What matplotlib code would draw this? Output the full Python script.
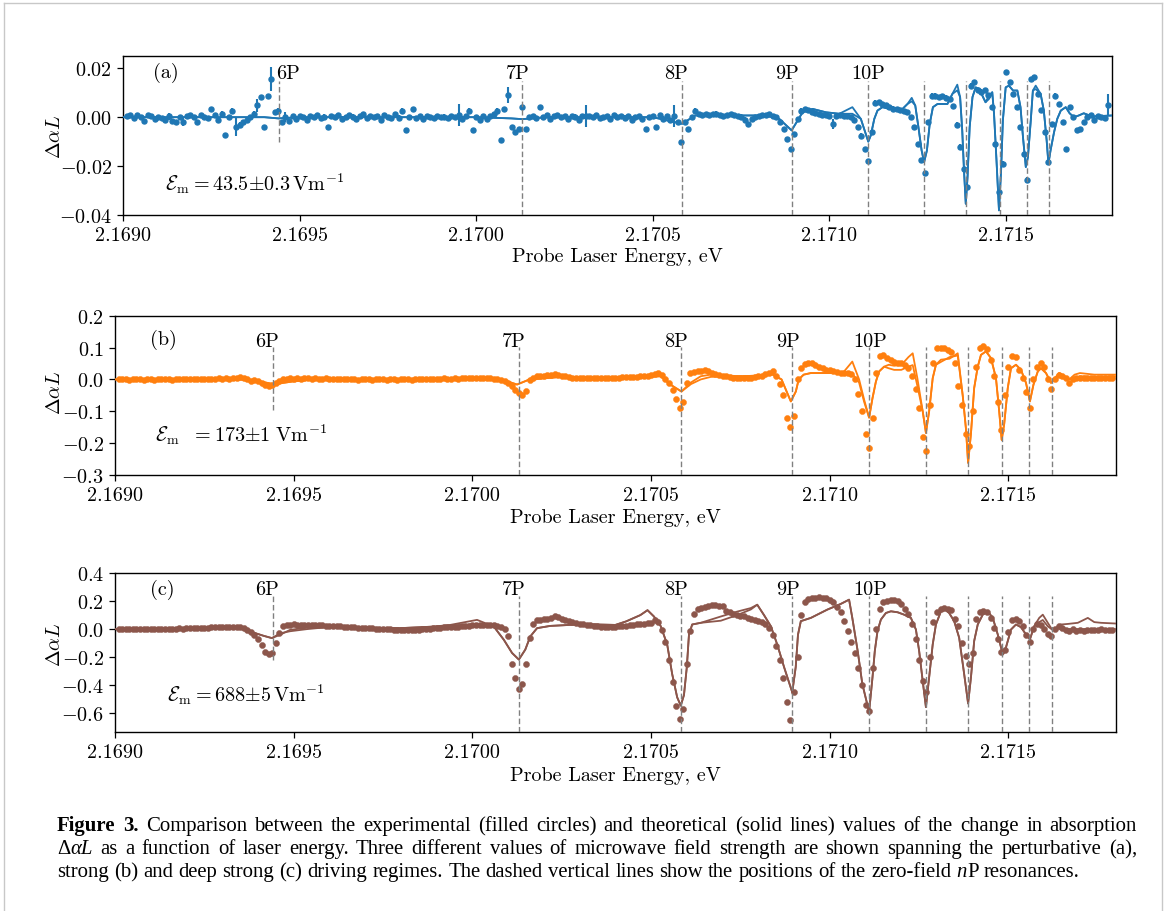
import numpy as np
import matplotlib
matplotlib.use("Agg")
import matplotlib.pyplot as plt
from matplotlib.lines import Line2D

plt.rcParams.update({
    "font.family": "serif",
    "font.serif": ["cmr10"],
    "mathtext.fontset": "cm",
    "axes.unicode_minus": False,
})

# ------------------------------------------------------------------ data
scan_start = 2.16901          # eV, first point of the probe-laser scan
scan_step = 1.0e-5            # eV between measured points

resonance_names = ["6P", "7P", "8P", "9P", "10P"]
resonance_energies = [2.169441, 2.170131, 2.170583, 2.170895, 2.171110,
                      2.171268, 2.171387, 2.171482, 2.171558, 2.171621]

xticks = [2.1690, 2.1695, 2.1700, 2.1705, 2.1710, 2.1715]
xtick_labels = ["2.1690", "2.1695", "2.1700", "2.1705", "2.1710", "2.1715"]
yticks_a = [-0.04, -0.02, 0.00, 0.02]
ytick_labels_a = ["$-0.04$", "$-0.02$", "$0.00$", "$0.02$"]
yticks_b = [-0.3, -0.2, -0.1, 0.0, 0.1, 0.2]
ytick_labels_b = ["$-0.3$", "$-0.2$", "$-0.1$", "$0.0$", "$0.1$", "$0.2$"]
yticks_c = [-0.6, -0.4, -0.2, 0.0, 0.2, 0.4]
ytick_labels_c = ["$-0.6$", "$-0.4$", "$-0.2$", "$0.0$", "$0.2$", "$0.4$"]

field_a = r"$\mathcal{E}_{\rm m} = 43.5{\pm}0.3\,{\rm Vm}^{-1}$"
field_b = r"$\mathcal{E}_{\rm m}\ \ = 173{\pm}1\ {\rm Vm}^{-1}$"
field_c = r"$\mathcal{E}_{\rm m} = 688{\pm}5\,{\rm Vm}^{-1}$"

# panel (a): measured change in absorption (one value per scan step)
meas_a = [
    0.0005, 0.001, -0.0005, 0.0008, 0.0, -0.0015, 0.0007, 0.0005, -0.0008, 0.0,
    -0.0003, -0.0012, 0.0004, -0.0015, -0.002, 0.0, -0.002, 0.0006, 0.001, 0.0,
    -0.002, 0.0008, 0.0, -0.0005, 0.0034, 0.0008, -0.001, 0.0015, -0.0072, 0.0,
    0.0027, -0.004, -0.003, -0.002, -0.001, 0.0, 0.0015, 0.0048, 0.0082, -0.004,
    0.0086, 0.0156, 0.002, 0.0027, -0.002, 0.0002, -0.0015, 0.0003, -0.0006, 0.0005,
    0.0, -0.0012, 0.0006, 0.0, 0.0008, -0.0004, 0.0002, -0.004, 0.0004, 0.0,
    0.0008, -0.0006, 0.0, 0.001, 0.0002, -0.0008, 0.0005, 0.0012, -0.0003, 0.0004,
    0.0, 0.0006, -0.001, 0.0008, 0.0, -0.0005, 0.0012, -0.0002, 0.0027, -0.0054,
    0.0, 0.0034, -0.0005, 0.0005, -0.0008, 0.0003, 0.0, -0.0004, 0.0006, 0.0,
    0.0002, -0.0003, 0.0004, 0.0, 0.001, -0.0006, 0.0003, 0.0027, -0.0054, 0.0,
    -0.0012, 0.0005, -0.0008, 0.0003, 0.0012, 0.0027, -0.0095, 0.0034, 0.0092, -0.004,
    -0.006, -0.0048, 0.004, -0.0048, 0.0, 0.0005, -0.0005, 0.004, 0.0, 0.0008,
    -0.0006, 0.0004, 0.001, 0.0, 0.0006, -0.0008, 0.0005, 0.0002, -0.0012, 0.0003,
    0.0004, 0.0006, 0.0, 0.0008, -0.0004, 0.0, 0.0005, -0.0006, 0.0009, 0.0,
    0.0006, -0.0002, 0.0004, -0.001, 0.0, 0.0003, -0.0008, -0.0048, 0.0, 0.0006,
    -0.004, 0.0008, -0.0006, 0.0004, -0.0012, 0.0004, -0.002, -0.0102, -0.002, -0.0048,
    0.0, 0.0027, 0.0012, 0.001, 0.0014, 0.0008, 0.0012, 0.0015, 0.001, 0.0006,
    0.001, 0.0012, 0.0008, 0.0004, 0.0002, -0.001, -0.0027, -0.0008, 0.0, 0.0006,
    0.001, 0.0008, 0.0012, 0.0006, 0.0, -0.002, -0.0048, -0.0088, -0.013, -0.0068,
    -0.0007, 0.0027, 0.0034, 0.003, 0.002, 0.0016, 0.0012, 0.0008, 0.001, 0.0006,
    -0.0027, 0.0004, 0.001, 0.0006, 0.0004, 0.0, -0.001, -0.004, -0.0075, -0.013,
    -0.018, -0.006, 0.006, 0.0061, 0.0055, 0.005, 0.0041, 0.0035, 0.0034, 0.003,
    0.0025, 0.002, 0.0, -0.004, -0.011, -0.0177, -0.023, -0.002, 0.0088, 0.0088,
    0.0082, 0.0085, 0.008, 0.0075, 0.0045, -0.003, -0.012, -0.021, -0.0286, 0.0129,
    0.0143, 0.011, 0.0105, 0.011, 0.009, 0.004, -0.011, -0.0306, -0.019, 0.0184,
    0.0143, 0.0095, 0.004, -0.004, -0.015, -0.0255, 0.0155, 0.0163, 0.0095, 0.003,
    -0.006, -0.0184, -0.0027, 0.0088, 0.0054, -0.002, -0.0129, 0.0041, 0.0, -0.0054,
    -0.0048, -0.002, 0.0, 0.0007, -0.001, 0.0003, 0.0, -0.0005, 0.0048,
]
err_a_typical = 0.0009
err_a_large = [(12, 0.0015), (16, 0.0015), (31, 0.0035), (37, 0.0025), (41, 0.0048),
               (45, 0.002), (94, 0.0045), (108, 0.0033), (130, 0.0045), (155, 0.0045),
               (200, 0.002), (278, 0.0045)]

# panel (b)
meas_b = [
    0.002, 0.0, 0.001, -0.001, 0.0, 0.002, 0.0, -0.002, 0.001, 0.0,
    -0.001, 0.001, 0.0, 0.002, 0.0, -0.001, 0.001, 0.0, 0.002, 0.001,
    0.0, 0.002, 0.001, 0.0, 0.001, 0.002, 0.0, 0.001, 0.003, 0.002,
    0.003, 0.002, 0.004, 0.006, 0.008, 0.004, 0.0, -0.004, -0.002, -0.006,
    -0.012, -0.018, -0.02, -0.018, -0.01, -0.004, 0.0, 0.002, 0.003, 0.002,
    0.003, 0.002, 0.004, 0.003, 0.002, 0.003, 0.001, 0.002, 0.003, 0.002,
    0.001, 0.002, 0.0, 0.001, 0.002, 0.0, 0.001, -0.001, 0.0, 0.001,
    0.0, -0.001, 0.0, 0.001, 0.0, -0.001, 0.0, 0.001, -0.001, 0.0,
    0.001, 0.0, -0.001, 0.0, 0.001, 0.0, 0.002, 0.001, 0.0, 0.002,
    0.001, 0.003, 0.002, 0.001, 0.003, 0.002, 0.004, 0.003, 0.005, 0.004,
    0.005, 0.006, 0.004, 0.005, 0.003, 0.002, 0.0, -0.003, -0.006, -0.01,
    -0.02, -0.032, -0.042, -0.05, -0.035, -0.002, 0.006, 0.01, 0.012, 0.012,
    0.013, 0.015, 0.016, 0.014, 0.012, 0.01, 0.008, 0.006, 0.005, 0.004,
    0.003, 0.003, 0.004, 0.003, 0.004, 0.005, 0.004, 0.005, 0.006, 0.005,
    0.006, 0.007, 0.008, 0.007, 0.008, 0.009, 0.01, 0.011, 0.012, 0.014,
    0.016, 0.02, 0.015, 0.0, -0.012, -0.032, -0.06, -0.09, -0.07, -0.01,
    0.02, 0.023, 0.025, 0.027, 0.028, 0.025, 0.02, 0.018, 0.015, 0.012,
    0.01, 0.008, 0.006, 0.005, 0.004, 0.004, 0.005, 0.006, 0.008, 0.01,
    0.012, 0.016, 0.02, 0.025, 0.01, -0.015, -0.05, -0.12, -0.15, -0.115,
    0.0, 0.035, 0.047, 0.053, 0.05, 0.045, 0.04, 0.035, 0.03, 0.028,
    0.025, 0.022, 0.02, 0.02, 0.02, 0.018, 0.0, -0.045, -0.10, -0.17,
    -0.215, -0.12, 0.02, 0.072, 0.077, 0.068, 0.06, 0.056, 0.052, 0.05,
    0.046, 0.035, 0.01, -0.03, -0.09, -0.18, -0.225, -0.08, 0.05, 0.098,
    0.10, 0.098, 0.093, 0.085, 0.05, -0.02, -0.08, -0.17, -0.21, -0.10,
    0.04, 0.10, 0.106, 0.095, 0.06, 0.01, -0.07, -0.16, -0.05, 0.04,
    0.075, 0.07, 0.03, 0.004, -0.04, -0.09, 0.0, 0.04, 0.05, 0.04,
    0.0, -0.03, 0.0, 0.015, 0.01, 0.004, -0.01, 0.0, 0.004, 0.004,
    0.005, 0.004, 0.005, 0.006, 0.005, 0.004, 0.005, 0.006, 0.005,
]

# panel (c)
meas_c = [
    0.0, 0.0, 0.0, -0.002, 0.0, 0.002, 0.0, -0.002, 0.0, 0.0,
    0.002, 0.0, 0.0, 0.002, 0.003, 0.002, 0.004, 0.005, 0.004, 0.006,
    0.006, 0.007, 0.008, 0.008, 0.01, 0.011, 0.012, 0.013, 0.014, 0.015,
    0.016, 0.017, 0.018, 0.016, 0.012, 0.005, -0.005, -0.02, -0.04, -0.07,
    -0.11, -0.16, -0.18, -0.17, -0.10, -0.03, 0.02, 0.03, 0.032, 0.033,
    0.032, 0.031, 0.03, 0.03, 0.029, 0.028, 0.027, 0.026, 0.025, 0.024,
    0.023, 0.021, 0.02, 0.018, 0.016, 0.015, 0.013, 0.011, 0.01, 0.008,
    0.007, 0.006, 0.004, 0.003, 0.002, 0.0, -0.002, -0.003, -0.004, -0.005,
    -0.005, -0.005, -0.004, -0.004, -0.003, -0.002, 0.0, 0.003, 0.006, 0.008,
    0.01, 0.012, 0.013, 0.015, 0.016, 0.018, 0.02, 0.022, 0.025, 0.027,
    0.029, 0.03, 0.03, 0.031, 0.03, 0.028, 0.025, 0.018, 0.0, -0.05,
    -0.25, -0.35, -0.43, -0.39, -0.25, -0.06, 0.04, 0.062, 0.068, 0.07,
    0.072, 0.078, 0.09, 0.085, 0.075, 0.068, 0.06, 0.052, 0.046, 0.04,
    0.035, 0.03, 0.026, 0.023, 0.02, 0.018, 0.017, 0.016, 0.016, 0.018,
    0.02, 0.022, 0.025, 0.028, 0.03, 0.033, 0.036, 0.04, 0.043, 0.047,
    0.062, 0.05, -0.005, -0.09, -0.22, -0.38, -0.55, -0.64, -0.57, -0.25,
    -0.01, 0.11, 0.14, 0.15, 0.157, 0.163, 0.17, 0.172, 0.168, 0.162,
    0.13, 0.12, 0.11, 0.10, 0.095, 0.09, 0.08, 0.075, 0.068, 0.06,
    0.05, 0.035, 0.01, -0.04, -0.12, -0.22, -0.35, -0.52, -0.65, -0.45,
    -0.2, 0.10, 0.19, 0.215, 0.222, 0.225, 0.226, 0.224, 0.22, 0.21,
    0.19, 0.16, 0.12, 0.06, -0.01, -0.09, -0.17, -0.28, -0.40, -0.54,
    -0.58, -0.28, 0.0, 0.14, 0.19, 0.20, 0.205, 0.21, 0.20, 0.18,
    0.145, 0.11, 0.04, -0.07, -0.22, -0.37, -0.45, -0.20, 0.05, 0.12,
    0.145, 0.15, 0.145, 0.135, 0.07, 0.02, -0.10, -0.19, -0.25, -0.17,
    0.07, 0.12, 0.127, 0.12, 0.08, 0.01, -0.07, -0.16, -0.15, -0.02,
    0.065, 0.075, 0.06, 0.02, -0.04, -0.09, 0.0, 0.04, 0.03, 0.0,
    -0.035, -0.05, 0.0, 0.02, 0.01, -0.005, -0.015, 0.0, -0.01, -0.005,
    -0.01, -0.005, -0.005, -0.005, -0.005, 0.0, -0.005, -0.005, -0.005,
]

# theory curves: (energy eV, change in absorption)
theory_a = [
    (2.16900, 0.0), (2.16940, 0.0), (2.16944, -0.0005), (2.16950, 0.0),
    (2.17000, 0.0), (2.17010, -0.0005), (2.17013, -0.0008), (2.17020, 0.0),
    (2.17050, 0.0), (2.170583, -0.0027), (2.17062, 0.0007), (2.17082, 0.0007),
    (2.170858, -0.0007), (2.170893, -0.0054), (2.170924, 0.002), (2.170952, 0.0034),
    (2.17099, 0.002), (2.171028, 0.0014), (2.171065, 0.0041), (2.171089, -0.0007),
    (2.17111, -0.0100), (2.171117, -0.0075), (2.171127, -0.0007), (2.171136, 0.0027),
    (2.17115, 0.0041), (2.171169, 0.0034), (2.171207, 0.0034), (2.171221, 0.0054),
    (2.171233, 0.0079), (2.171243, 0.0048), (2.171252, -0.0041), (2.171261, -0.0136),
    (2.171268, -0.0184), (2.171276, -0.0136), (2.171284, -0.0027), (2.171293, 0.0041),
    (2.171306, 0.0054), (2.171334, 0.0054), (2.171348, 0.0095), (2.171362, 0.0133),
    (2.17137, 0.0082), (2.171376, -0.0054), (2.171381, -0.0218), (2.171386, -0.0354),
    (2.171391, -0.0245), (2.171397, -0.0041), (2.171405, 0.0082), (2.171414, 0.0122),
    (2.171424, 0.0116), (2.171433, 0.0088), (2.171442, 0.0061), (2.171452, 0.0075),
    (2.171461, 0.0102), (2.171466, 0.0014), (2.171473, -0.0177), (2.17148, -0.0381),
    (2.171486, -0.0218), (2.171491, -0.0014), (2.171499, 0.0122), (2.171508, 0.0129),
    (2.17152, 0.0109), (2.171532, 0.0109), (2.171541, 0.0041), (2.171548, -0.0082),
    (2.171556, -0.0204), (2.171562, -0.0163), (2.17157, -0.0014), (2.171576, 0.0109),
    (2.171584, 0.0129), (2.171598, 0.0095), (2.171607, 0.0027), (2.171615, -0.0095),
    (2.17162, -0.019), (2.171626, -0.0136), (2.171636, -0.0061), (2.171645, -0.0007),
    (2.171655, 0.0027), (2.171669, 0.0041), (2.17168, 0.0016), (2.171692, 0.0),
    (2.171706, 0.0007), (2.17172, 0.0016), (2.171744, 0.0003), (2.1718, 0.0007),
]
theory_a_second = {2.171065: 0.0014, 2.171233: 0.0065, 2.171362: 0.011, 2.171452: 0.0090,
                   2.171584: 0.0115}

theory_b = [
    (2.16900, 0.0), (2.16935, 0.0), (2.16940, -0.005), (2.169445, -0.015),
    (2.16950, -0.006), (2.16956, 0.0), (2.17000, 0.001), (2.17008, 0.0),
    (2.170125, -0.016), (2.17016, 0.0), (2.17025, 0.008), (2.17035, 0.005),
    (2.17045, 0.006), (2.170527, 0.01), (2.170555, -0.017), (2.170585, -0.038),
    (2.170611, -0.01), (2.170639, 0.01), (2.170667, 0.015), (2.17075, 0.01),
    (2.1708, 0.012), (2.17084, 0.015), (2.170865, 0.0), (2.17088, -0.04),
    (2.170891, -0.069), (2.170905, -0.038), (2.170913, 0.0), (2.170927, 0.015),
    (2.170947, 0.02), (2.170993, 0.02), (2.171021, 0.02), (2.17104, 0.025),
    (2.171063, 0.056), (2.171082, 0.0), (2.171096, -0.063), (2.17111, -0.12),
    (2.1711195, -0.059), (2.171129, -0.007), (2.171138, 0.025), (2.171152, 0.04),
    (2.171165, 0.046), (2.17118, 0.043), (2.1712, 0.045), (2.17122, 0.07),
    (2.171232, 0.082), (2.171245, 0.004), (2.17126, -0.10), (2.171269, -0.168),
    (2.171278, -0.10), (2.171288, 0.004), (2.171297, 0.046), (2.171311, 0.062),
    (2.171335, 0.065), (2.171358, 0.082), (2.171372, -0.051), (2.171381, -0.155),
    (2.171387, -0.262), (2.171395, -0.17), (2.171404, -0.027), (2.171414, 0.04),
    (2.171423, 0.077), (2.171437, 0.088), (2.171451, 0.067), (2.171465, 0.004),
    (2.171474, -0.10), (2.171481, -0.19), (2.171488, -0.14), (2.171498, -0.027),
    (2.171507, 0.035), (2.171521, 0.046), (2.171535, 0.03), (2.171549, -0.011),
    (2.17156, -0.069), (2.17157, -0.016), (2.171582, 0.025), (2.171591, 0.035),
    (2.171605, 0.02), (2.171619, -0.011), (2.17163, 0.004), (2.171642, 0.02),
    (2.171656, 0.01), (2.17167, 0.0), (2.171685, 0.015), (2.1717, 0.02),
    (2.17174, 0.015), (2.1718, 0.015),
]
theory_b_second = {2.170611: -0.015, 2.170639: 0.0, 2.170667: 0.008,
                   2.17104: 0.022, 2.171063: 0.018, 2.171082: -0.01, 2.171096: -0.07,
                   2.171165: 0.035, 2.17118: 0.03, 2.1712: 0.03, 2.17122: 0.04,
                   2.171232: 0.045, 2.171245: -0.02, 2.171311: 0.055, 2.171335: 0.07,
                   2.171358: 0.075, 2.171685: 0.005, 2.1717: 0.01, 2.17174: 0.008,
                   2.1718: 0.01}

theory_c = [
    (2.16900, 0.0), (2.169145, 0.002), (2.169238, 0.01), (2.169331, 0.018),
    (2.169378, -0.017), (2.169415, -0.047), (2.169439, -0.064), (2.169462, -0.04),
    (2.16949, -0.005), (2.169537, 0.01), (2.169611, 0.018), (2.169705, 0.01),
    (2.169798, 0.007), (2.169891, 0.018), (2.169938, 0.03), (2.170013, 0.066),
    (2.17006, 0.018), (2.170088, -0.076), (2.170111, -0.17), (2.17013, -0.217),
    (2.170148, -0.146), (2.170162, -0.052), (2.170181, 0.007), (2.170218, 0.023),
    (2.170312, 0.035), (2.1704, 0.03), (2.17043, 0.055), (2.17047, 0.10),
    (2.17049, 0.135), (2.170508, 0.09), (2.170527, 0.021), (2.170545, -0.109),
    (2.170559, -0.32), (2.170573, -0.486), (2.170583, -0.545), (2.170592, -0.47),
    (2.1706, -0.27), (2.170606, -0.038), (2.170615, 0.033), (2.170639, 0.045),
    (2.170695, 0.06), (2.170741, 0.10), (2.170779, 0.14), (2.170797, 0.174),
    (2.170816, 0.10), (2.170835, 0.021), (2.170853, -0.11), (2.170872, -0.27),
    (2.170895, -0.45), (2.1709047, -0.27), (2.170911, -0.04), (2.170919, 0.057),
    (2.170947, 0.08), (2.170993, 0.139), (2.171031, 0.18), (2.171054, 0.21),
    (2.171063, 0.08), (2.171078, -0.155), (2.171091, -0.39), (2.17111, -0.59),
    (2.1711195, -0.344), (2.171126, -0.155), (2.1711335, -0.014), (2.171143, 0.068),
    (2.171157, 0.115), (2.171171, 0.127), (2.17119, 0.12), (2.171208, 0.103),
    (2.171227, 0.08), (2.171241, -0.003), (2.17125, -0.155), (2.17126, -0.37),
    (2.171269, -0.556), (2.171278, -0.344), (2.171288, -0.109), (2.171297, 0.033),
    (2.171311, 0.127), (2.17132, 0.146), (2.171334, 0.115), (2.171348, 0.057),
    (2.171362, -0.061), (2.171376, -0.32), (2.171387, -0.53), (2.171395, -0.344),
    (2.171404, -0.085), (2.171414, 0.033), (2.171428, 0.103), (2.171442, 0.127),
    (2.171456, 0.08), (2.17147, -0.038), (2.171484, -0.18), (2.171493, -0.13),
    (2.171507, -0.003), (2.171521, 0.033), (2.171535, 0.014), (2.171549, -0.038),
    (2.17156, -0.073), (2.171572, 0.021), (2.171586, 0.08), (2.171596, 0.103),
    (2.17161, 0.045), (2.171622, -0.003), (2.171633, 0.009), (2.171647, 0.033),
    (2.171666, 0.037), (2.171694, 0.045), (2.171722, 0.08), (2.17174, 0.05),
    (2.171759, 0.045), (2.1718, 0.04),
]
theory_c_second = {2.169462: -0.03, 2.16949: -0.015, 2.169537: 0.0,
                   2.169938: 0.025, 2.170013: 0.037,
                   2.170695: 0.09, 2.170741: 0.125, 2.170779: 0.15,
                   2.171586: 0.05, 2.171596: 0.065, 2.17161: 0.02,
                   2.171647: 0.0, 2.171666: 0.0, 2.171694: 0.0, 2.171722: 0.0,
                   2.17174: 0.0, 2.171759: 0.0, 2.1718: 0.0}

# ------------------------------------------------------------------ figure
W, H = 1167, 912
fig = plt.figure(figsize=(W / 100, H / 100), dpi=100)
fig.patch.set_facecolor("white")

FS = 14.5
C_A, C_B, C_C = "#1f77b4", "#ff7f0e", "#8c564b"


def axes_px(left, top, right, bottom):
    return fig.add_axes([left / W, 1 - bottom / H, (right - left) / W, (bottom - top) / H])


panels = [
    dict(box=(123, 57.3, 1112, 216), ylim=(-0.04, 0.0249), yt=yticks_a, ytl=ytick_labels_a,
         meas=meas_a, theory=theory_a, second=theory_a_second, color=C_A,
         tag="(a)", tag_xy=(0.030, 0.90), field=field_a, field_xy=(0.042, 0.16),
         dash_top=0.844, first_bottom=0.46, label_y=0.866,
         label_shift=[26, -13, -16, -15, 1], xlabel_y=262, ylabel_y=137),
    dict(box=(115, 316.7, 1115.7, 476), ylim=(-0.3, 0.2), yt=yticks_b, ytl=ytick_labels_b,
         meas=meas_b, theory=theory_b, second=theory_b_second, color=C_B,
         tag="(b)", tag_xy=(0.035, 0.854), field=field_b, field_xy=(0.040, 0.215),
         dash_top=0.803, first_bottom=0.408, label_y=0.812,
         label_shift=[-15, -15, -13, -13, 3], xlabel_y=522.7, ylabel_y=393),
    dict(box=(115, 574, 1115.7, 732.7), ylim=(-0.731, 0.40), yt=yticks_c, ytl=ytick_labels_c,
         meas=meas_c, theory=theory_c, second=theory_c_second, color=C_C,
         tag="(c)", tag_xy=(0.035, 0.90), field=field_c, field_xy=(0.052, 0.195),
         dash_top=0.855, first_bottom=0.452, label_y=0.868,
         label_shift=[-15, -15, -13, -13, 3], xlabel_y=780.7, ylabel_y=645),
]

for i, p in enumerate(panels):
    ax = axes_px(*p["box"])
    ax.set_xlim(2.1690, 2.1718)
    ax.set_ylim(*p["ylim"])
    ax.set_xticks(xticks)
    ax.set_xticklabels(xtick_labels)
    ax.set_yticks(p["yt"])
    ax.set_yticklabels(p["ytl"])
    ax.tick_params(labelsize=FS, direction="out", length=4, width=0.9, pad=4)
    for s in ax.spines.values():
        s.set_linewidth(1.0)

    vals = np.array(p["meas"])
    energy = scan_start + scan_step * np.arange(len(vals))
    c = p["color"]
    if i == 0:
        err = np.full(len(vals), err_a_typical)
        for k, e in err_a_large:
            if k < len(err):
                err[k] = e
        ax.errorbar(energy, vals, yerr=err, fmt="o", ms=3.6, color=c, ecolor=c,
                    elinewidth=1.5, capsize=0, zorder=2)
    else:
        ax.plot(energy, vals, "o", ms=4.4, color=c, mec=c, mew=0.3, zorder=2)

    th = np.array(p["theory"])
    th2 = np.array([p["second"].get(e, v) for e, v in p["theory"]])
    ax.plot(th[:, 0], th2, color=c, lw=1.3, zorder=3)
    ax.plot(th[:, 0], th[:, 1], color=c, lw=1.3, zorder=3)

    for j, e in enumerate(resonance_energies):
        ymin = p["first_bottom"] if j == 0 else 0.0
        ax.axvline(e, ymin=ymin, ymax=p["dash_top"], color="#808080", ls="--",
                   lw=1.0, dashes=(4, 2), zorder=4)
    for name, e, sh in zip(resonance_names, resonance_energies, p["label_shift"]):
        ax.text(e + sh * 1e-6, p["label_y"], name, transform=ax.get_xaxis_transform(),
                ha="center", va="baseline", fontsize=FS)

    ax.text(p["tag_xy"][0], p["tag_xy"][1], p["tag"], transform=ax.transAxes,
            ha="left", va="center", fontsize=FS)
    ax.text(p["field_xy"][0], p["field_xy"][1], p["field"], transform=ax.transAxes,
            ha="left", va="baseline", fontsize=FS)

    l, t, r, b = p["box"]
    fig.text(((l + r) / 2) / W, 1 - p["xlabel_y"] / H, "Probe Laser Energy, eV",
             ha="center", va="baseline", fontsize=FS)
    fig.text(55 / W, 1 - p["ylabel_y"] / H, r"$\Delta\alpha L$", rotation=90,
             ha="center", va="center", fontsize=FS)

# ------------------------------------------------------------------ caption
caption_lines = [
    "Figure 3. Comparison between the experimental (filled circles) and theoretical (solid lines) values of the change in absorption",
    "ΔαL as a function of laser energy. Three different values of microwave field strength are shown spanning the perturbative (a),",
    "strong (b) and deep strong (c) driving regimes. The dashed vertical lines show the positions of the zero-field nP resonances.",
]
cap_baselines = [831, 854, 877]
cap_x0, cap_x1 = 57, 1137
CAP_FS = 14.95
CAP_FONT = "Liberation Serif"


def word_segments(line_idx, word_idx, word):
    if line_idx == 0 and word_idx < 2:
        return [(word, "bold", "normal")]
    if word == "ΔαL":
        return [("Δ", "normal", "normal"), ("αL", "normal", "italic")]
    if word == "nP":
        return [("n", "normal", "italic"), ("P", "normal", "normal")]
    return [(word, "normal", "normal")]


renderer = fig.canvas.get_renderer()
for li, (line, base) in enumerate(zip(caption_lines, cap_baselines)):
    words = line.split(" ")
    placed = []
    for wi, w in enumerate(words):
        segs = []
        for s, wt, st in word_segments(li, wi, w):
            t = fig.text(0, 1 - base / H, s, fontsize=CAP_FS, family=CAP_FONT,
                         fontweight=wt, fontstyle=st, ha="left", va="baseline")
            segs.append((t, t.get_window_extent(renderer=renderer).width))
        placed.append(segs)
    widths = [sum(wd for _, wd in segs) for segs in placed]
    sp = fig.text(0, 0, "a a", fontsize=CAP_FS, family=CAP_FONT)
    sp2 = fig.text(0, 0, "aa", fontsize=CAP_FS, family=CAP_FONT)
    space = sp.get_window_extent(renderer=renderer).width - sp2.get_window_extent(renderer=renderer).width
    sp.remove(); sp2.remove()
    if li < len(caption_lines) - 1:
        gap = (cap_x1 - cap_x0 - sum(widths)) / (len(words) - 1)
    else:
        gap = space
    x = cap_x0
    for segs, wd in zip(placed, widths):
        xx = x
        for t, w in segs:
            t.set_x(xx / W)
            xx += w
        x += wd + gap

# thin frame around the figure
for xs, ys in [((4, 1162), (4, 4)), ((4, 4), (4, 912)), ((1162, 1162), (4, 912))]:
    fig.add_artist(Line2D([xs[0] / W, xs[1] / W], [1 - ys[0] / H, 1 - ys[1] / H],
                          transform=fig.transFigure, color="#c8c8c8", lw=1.0))

fig.savefig("out.png", dpi=100)
